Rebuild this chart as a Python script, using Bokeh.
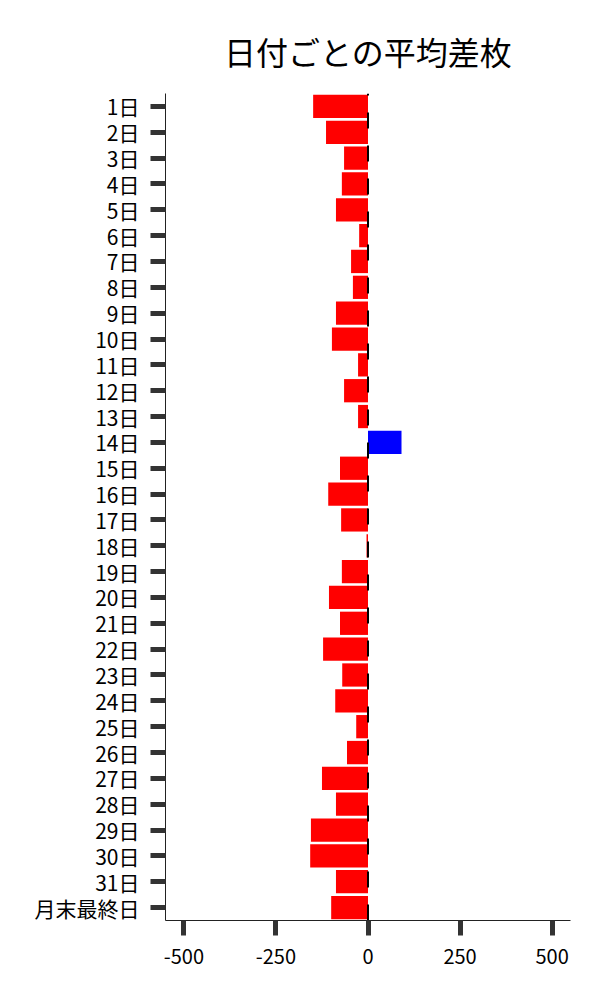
from bokeh.plotting import figure
from bokeh.models import ColumnDataSource, FactorRange, Range1d, FixedTicker
from bokeh.embed import file_html
from bokeh.resources import INLINE

days = ["1日", "2日", "3日", "4日", "5日", "6日", "7日", "8日", "9日", "10日",
        "11日", "12日", "13日", "14日", "15日", "16日", "17日", "18日", "19日", "20日",
        "21日", "22日", "23日", "24日", "25日", "26日", "27日", "28日", "29日", "30日",
        "31日", "月末最終日"]
avg_diff = [-149, -114, -65, -71, -87, -24, -46, -41, -87, -98,
            -27, -65, -27, 91, -76, -108, -73, -4, -71, -106,
            -76, -122, -70, -89, -32, -57, -125, -87, -155, -157,
            -87, -100]
x_ticks = [-500, -250, 0, 250, 500]

FONT = "Noto Sans CJK JP"
colors = ["#FF0000" if v < 0 else "#0000FF" for v in avg_diff]
src = ColumnDataSource(dict(day=days, val=avg_diff, color=colors))

p = figure(
    y_range=FactorRange(factors=list(reversed(days)), range_padding=0),
    x_range=Range1d(-550, 550),
    frame_width=405, frame_height=827,
    min_border_left=165, min_border_right=14, min_border_top=93, min_border_bottom=70,
    output_backend="svg", toolbar_location=None,
    title="日付ごとの平均差枚",
)
p.hbar(y="day", left=0, right="val", height=0.9, color="color", line_color=None, source=src)
p.segment(x0=[0], y0=[(days[-1], -0.5)], x1=[0], y1=[(days[0], 0.5)],
          line_color="black", line_width=2, line_dash="16 17")

p.title.align = "center"
p.title.vertical_align = "bottom"
p.title.text_font = FONT
p.title.text_font_size = "32px"
p.title.text_font_style = "normal"
p.title.text_color = "black"
p.title.text_line_height = 0.8
p.title.standoff = 40

p.outline_line_color = None
p.xgrid.grid_line_color = None
p.ygrid.grid_line_color = None

p.xaxis.ticker = FixedTicker(ticks=x_ticks)
p.xaxis.major_label_overrides = {t: str(t) for t in x_ticks}
for ax in (p.xaxis[0], p.yaxis[0]):
    ax.major_label_text_font = FONT
    ax.major_label_text_font_size = "21px"
    ax.major_label_text_color = "black"
    ax.major_tick_line_color = "#333333"
    ax.major_tick_line_width = 5
    ax.major_tick_out = 15
    ax.major_tick_in = 0
    ax.minor_tick_line_color = None
    ax.axis_line_color = "#222222"
    ax.axis_line_width = 1
p.xaxis.major_label_text_font_size = "20px"
p.xaxis.major_label_standoff = 13
p.yaxis.major_label_standoff = 11

open("out.html", "w").write(file_html(p, INLINE))
